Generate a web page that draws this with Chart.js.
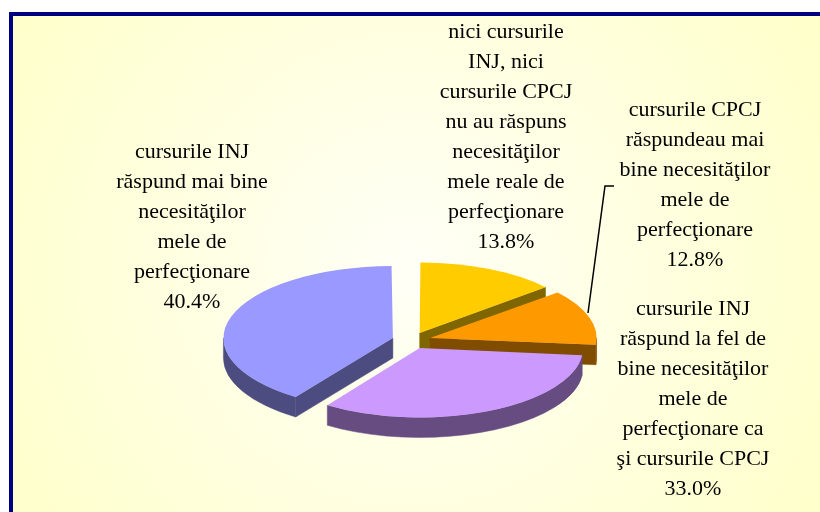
<!DOCTYPE html>
<html><head><meta charset="utf-8">
<script src="https://cdn.jsdelivr.net/npm/chart.js@4.4.1/dist/chart.umd.min.js"></script>
<style>html,body{margin:0;padding:0;background:#fff;overflow:hidden}#wrap{width:820px;height:512px;position:relative}canvas{display:block}</style>
</head><body><div id="wrap"><canvas id="c" width="820" height="512"></canvas></div>
<script>
// ---- data ----
const categories = [
  ["nici cursurile", "INJ, nici", "cursurile CPCJ", "nu au răspuns", "necesităţilor", "mele reale de", "perfecţionare"],
  ["cursurile CPCJ", "răspundeau mai", "bine necesităţilor", "mele de", "perfecţionare"],
  ["cursurile INJ", "răspund la fel de", "bine necesităţilor", "mele de", "perfecţionare ca", "şi cursurile CPCJ"],
  ["cursurile INJ", "răspund mai bine", "necesităţilor", "mele de", "perfecţionare"]
];
const values = [13.8, 12.8, 33.0, 40.4];
const topColors = ['#FFCC00', '#FF9900', '#CC99FF', '#9999FF'];
const sideColors = ['#806600', '#804C00', '#664C80', '#4C4C80'];

// ---- layout constants ----
const K = 0.425;      // vertical squash of the pie
const Y0 = 340.5;     // screen y of pie centre
const DEPTH = 20;     // thickness of the pie
const labelAnchors = [[506, 32], [695, 110], [693, 309], [192, 152]];
const LINE_H = 30;

const bgPlugin = {
  id: 'bg',
  beforeDraw(chart) {
    const ctx = chart.ctx;
    ctx.save();
    ctx.fillStyle = '#ffffff';
    ctx.fillRect(0, 0, chart.width, chart.height);
    const g = ctx.createRadialGradient(410, 270, 10, 410, 270, 520);
    g.addColorStop(0, '#FFFFF6');
    g.addColorStop(1, '#FFFFC6');
    ctx.fillStyle = g;
    ctx.fillRect(11, 14, 830, 530);
    ctx.strokeStyle = '#000080';
    ctx.lineWidth = 4;
    ctx.strokeRect(11, 14, 830, 530);
    ctx.restore();
  }
};

const pie3d = {
  id: 'pie3d',
  beforeDatasetsDraw(chart) {
    const ctx = chart.ctx;
    const meta = chart.getDatasetMeta(0);
    const cy0 = (chart.chartArea.top + chart.chartArea.bottom) / 2;
    const PI = Math.PI;
    ctx.save();
    meta.data.forEach((arc, i) => {
      const p = arc.getProps(['x', 'y', 'startAngle', 'endAngle', 'outerRadius'], true);
      const off = (arc.options.offset || 0) / 4;
      const s = p.startAngle, e = p.endAngle;
      const half = (s + e) / 2;
      const circ = e - s;
      const fix = 1 - Math.sin(Math.min(PI, circ));
      const ro = off * fix;
      const R = p.outerRadius + ro;
      const beta = Math.max(0.001, circ * R - ro / PI) / R;
      const ao = (circ - beta) / 2;
      const s2 = s + ao, e2 = e - ao;
      const sx = p.x + Math.cos(half) * off;
      const sy = Y0 + K * (p.y + Math.sin(half) * off - cy0);
      const ry = R * K;
      ctx.fillStyle = sideColors[i];
      ctx.strokeStyle = sideColors[i];
      ctx.lineWidth = 0.5;
      // radial faces
      const face = (a) => {
        ctx.beginPath();
        ctx.moveTo(sx, sy);
        ctx.lineTo(sx + R * Math.cos(a), sy + ry * Math.sin(a));
        ctx.lineTo(sx + R * Math.cos(a), sy + ry * Math.sin(a) + DEPTH);
        ctx.lineTo(sx, sy + DEPTH);
        ctx.closePath();
        ctx.fill(); ctx.stroke();
      };
      if (Math.cos(s2) < -1e-6) face(s2);
      if (Math.cos(e2) > 1e-6) face(e2);
      // outer wall
      [-2 * PI, 0, 2 * PI].forEach(k => {
        const a = Math.max(s2, k), b = Math.min(e2, k + PI);
        if (b > a) {
          ctx.beginPath();
          ctx.ellipse(sx, sy, R, ry, 0, a, b, false);
          ctx.ellipse(sx, sy + DEPTH, R, ry, 0, b, a, true);
          ctx.closePath();
          ctx.fill(); ctx.stroke();
        }
      });
    });
    ctx.restore();
    ctx.save();
    ctx.translate(0, Y0);
    ctx.scale(1, K);
    ctx.translate(0, -cy0);
  },
  afterDatasetsDraw(chart) {
    chart.ctx.restore();
  }
};

const labelPlugin = {
  id: 'labels',
  afterDraw(chart) {
    const ctx = chart.ctx;
    ctx.save();
    ctx.fillStyle = '#000000';
    ctx.font = '22px "Liberation Serif", "Times New Roman", serif';
    ctx.textAlign = 'center';
    ctx.textBaseline = 'middle';
    categories.forEach((lines, i) => {
      const all = lines.concat([values[i].toFixed(1) + '%']);
      const [x, y] = labelAnchors[i];
      all.forEach((t, j) => ctx.fillText(t, x, y + j * LINE_H));
    });
    // leader line for the orange slice
    ctx.strokeStyle = '#000000';
    ctx.lineWidth = 1.5;
    ctx.beginPath();
    ctx.moveTo(588, 313);
    ctx.lineTo(605, 186);
    ctx.lineTo(614, 186);
    ctx.stroke();
    ctx.restore();
  }
};

new Chart(document.getElementById('c').getContext('2d'), {
  type: 'pie',
  data: {
    labels: categories.map(l => l.join(' ')),
    datasets: [{
      data: values,
      backgroundColor: topColors,
      borderWidth: 0,
      offset: 78,
      radius: 161,
      clip: false
    }]
  },
  options: {
    responsive: false,
    animation: false,
    events: [],
    radius: 161,
    layout: { padding: { left: 3, right: 0, top: 0, bottom: 0 } },
    plugins: { legend: { display: false }, tooltip: { enabled: false } }
  },
  plugins: [bgPlugin, pie3d, labelPlugin]
});
</script>
</body></html>
